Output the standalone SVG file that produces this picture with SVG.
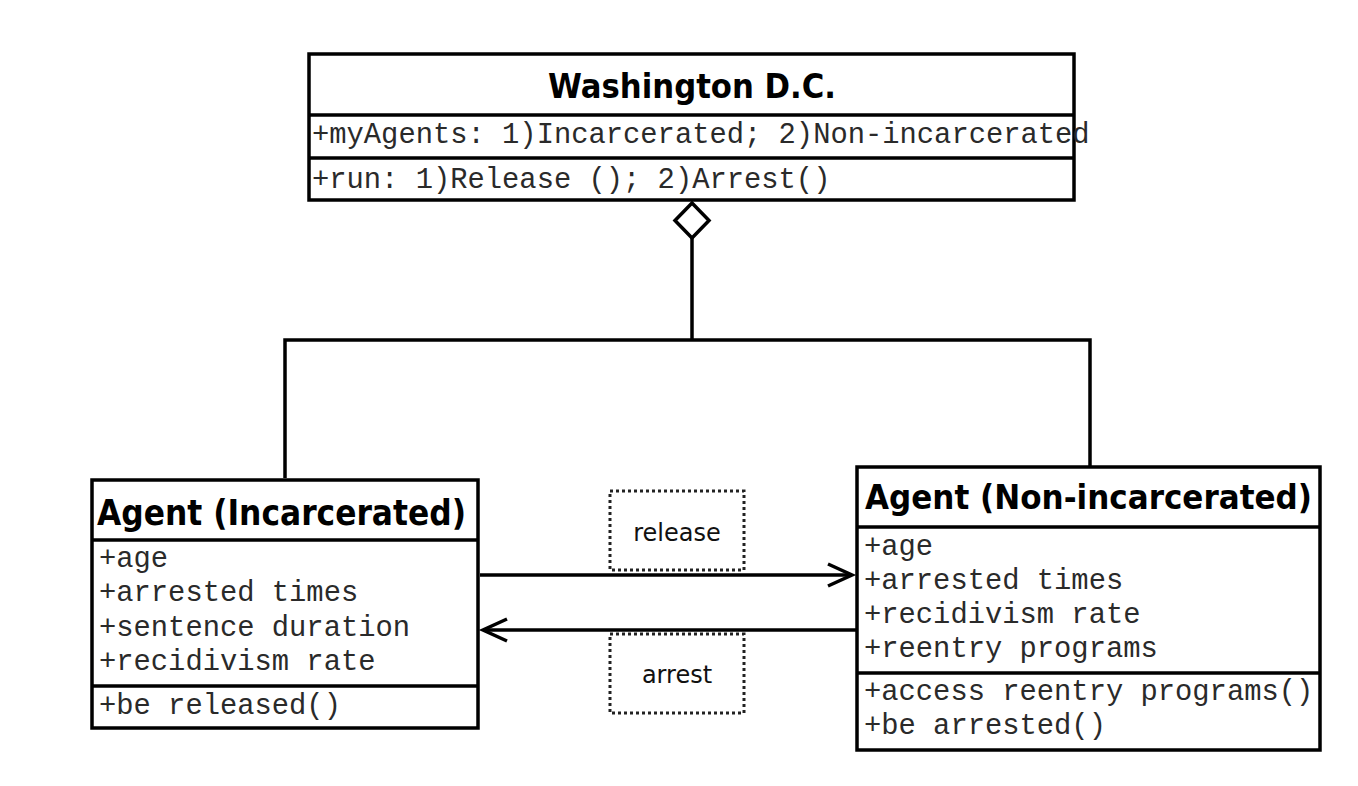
<svg xmlns="http://www.w3.org/2000/svg" width="1358" height="786" viewBox="0 0 1358 786">
<style>
.box{fill:#fff;stroke:#000;stroke-width:3.5}
.div{stroke:#000;stroke-width:3.5}
.title{font-family:"DejaVu Sans","Liberation Sans",sans-serif;font-weight:bold;fill:#000}
.mono{font-family:"Liberation Mono","Courier New",monospace;font-size:28.8px;fill:#2a2a2a}
.conn{fill:none;stroke:#000;stroke-width:3.5}
.lbl{fill:none;stroke:#222;stroke-width:3;stroke-dasharray:3 3}
.lbltext{font-family:"DejaVu Sans","Liberation Sans",sans-serif;font-size:24px;fill:#111;text-anchor:middle}
</style>
<rect width="1358" height="786" fill="#fff"/>
<g id="connectors">
<polyline class="conn" points="692,238 692,340"/>
<polyline class="conn" points="285,478 285,340 1090,340 1090,467"/>
<polygon points="692,203 709,220.5 692,238 675,220.5" fill="#fff" stroke="#000" stroke-width="3.5"/>
<line class="conn" x1="480" y1="575" x2="852" y2="575"/>
<polyline class="conn" points="828,564 852,575 828,586"/>
<line class="conn" x1="856" y1="630" x2="483" y2="630"/>
<polyline class="conn" points="507,619 483,630 507,641"/>
</g>
<g id="washington">
<rect class="box" x="309" y="54" width="765" height="146"/>
<line class="div" x1="309" y1="115" x2="1074" y2="115"/>
<line class="div" x1="309" y1="158" x2="1074" y2="158"/>
<text class="title" x="548" y="98" font-size="34" textLength="288" lengthAdjust="spacingAndGlyphs">Washington D.C.</text>
<text class="mono" x="312" y="143">+myAgents: 1)Incarcerated; 2)Non-incarcerated</text>
<text class="mono" x="312" y="188">+run: 1)Release (); 2)Arrest()</text>
</g>
<g id="agent-incarcerated">
<rect class="box" x="92" y="480" width="386" height="248"/>
<line class="div" x1="92" y1="540" x2="478" y2="540"/>
<line class="div" x1="92" y1="686" x2="478" y2="686"/>
<text class="title" x="97" y="525" font-size="35" textLength="369" lengthAdjust="spacingAndGlyphs">Agent (Incarcerated)</text>
<text class="mono" x="99" y="567">+age</text>
<text class="mono" x="99" y="601">+arrested times</text>
<text class="mono" x="99" y="636">+sentence duration</text>
<text class="mono" x="99" y="670">+recidivism rate</text>
<text class="mono" x="99" y="714">+be released()</text>
</g>
<g id="agent-nonincarcerated">
<rect class="box" x="857" y="467" width="463" height="283"/>
<line class="div" x1="857" y1="527" x2="1320" y2="527"/>
<line class="div" x1="857" y1="673" x2="1320" y2="673"/>
<text class="title" x="865" y="509" font-size="34" textLength="447" lengthAdjust="spacingAndGlyphs">Agent (Non-incarcerated)</text>
<text class="mono" x="864" y="555">+age</text>
<text class="mono" x="864" y="589">+arrested times</text>
<text class="mono" x="864" y="623">+recidivism rate</text>
<text class="mono" x="864" y="657">+reentry programs</text>
<text class="mono" x="864" y="700">+access reentry programs()</text>
<text class="mono" x="864" y="734">+be arrested()</text>
</g>
<g id="label-release">
<rect class="lbl" x="610" y="491" width="134" height="79"/>
<text class="lbltext" x="677" y="541">release</text>
</g>
<g id="label-arrest">
<rect class="lbl" x="610" y="634" width="134" height="79"/>
<text class="lbltext" x="677" y="683">arrest</text>
</g>
</svg>
